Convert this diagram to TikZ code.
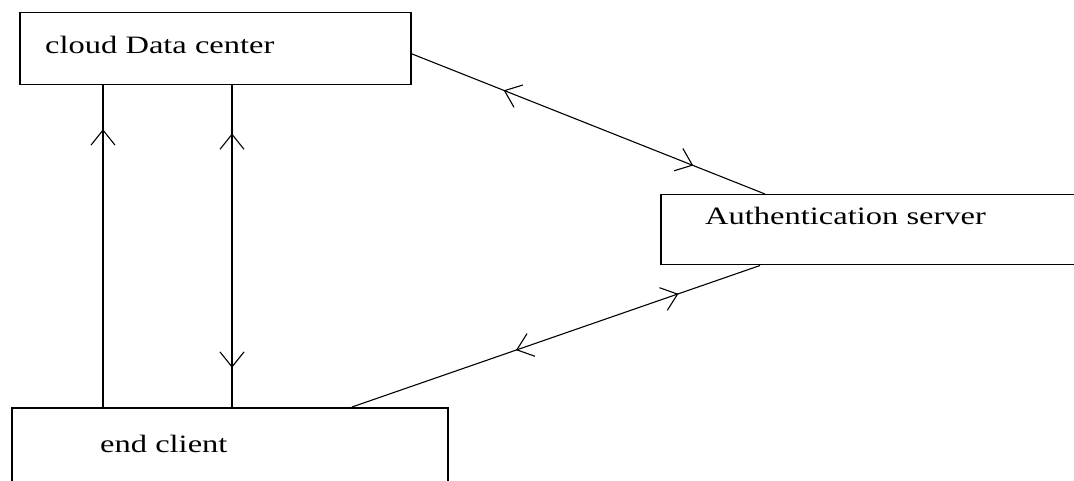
\documentclass[tikz,border=0pt]{standalone}
\usepackage{fontspec}
\setmainfont{Liberation Serif}
\usetikzlibrary{calc,arrows.meta,decorations.markings}

\tikzset{
  box/.style={draw, rectangle, line width=1.5pt, inner sep=0pt, anchor=north west},
  lbl/.style={anchor=base west, inner sep=0pt, font=\fontsize{25}{30}\selectfont},
  link/.style={line width=1.1pt},
  tipfwd/.style={postaction={decorate, decoration={markings,
    mark=at position #1 with {\arrow{Straight Barb[length=15pt,width=24pt]}}}}},
  tipbwd/.style={postaction={decorate, decoration={markings,
    mark=at position #1 with {\arrow{Straight Barb[reversed,length=15pt,width=24pt]}}}}}
}

\begin{document}
\begin{tikzpicture}[x=1pt,y=-1pt]
\clip (0,0) rectangle (1074,481);
\fill[white] (0,0) rectangle (1074,481);

% boxes
\node[box, minimum width=391, minimum height=72] (cloud) at (19,12) {};
\node[box, minimum width=430, minimum height=70] (auth) at (660,194) {};
\node[box, minimum width=436, minimum height=93] (client) at (11,407) {};

% texts
\node[lbl] (cloudtext) at ($(cloud.north west)+(26,42)$) {\scalebox{1.3}[1]{cloud Data center}};
\node[lbl] (authtext) at ($(auth.north west)+(45,31)$) {\scalebox{1.3}[1]{Authentication server}};
\node[lbl] (clienttext) at ($(client.north west)+(89,45)$) {\scalebox{1.3}[1]{end client}};
\node[lbl, anchor=base] (pageg) at (924,-5) {g};

% client -- cloud
\draw[link, tipfwd=0.864] ($(client.north west)+(92,0)$) -- ($(cloud.south west)+(84,0)$);
\draw[link, tipfwd=0.851, tipbwd=0.173] ($(client.north west)+(221,0)$) -- ($(cloud.south west)+(213,0)$);

% cloud -- auth
\draw[link, tipbwd=0.304, tipfwd=0.797] ([yshift=-5pt]cloud.east) -- ($(auth.north west)+(105,0)$);

% client -- auth
\draw[link, tipbwd=0.44, tipfwd=0.80] ($(client.north west)+(341,0)$) -- ($(auth.south west)+(100,0)$);
\end{tikzpicture}
\end{document}
